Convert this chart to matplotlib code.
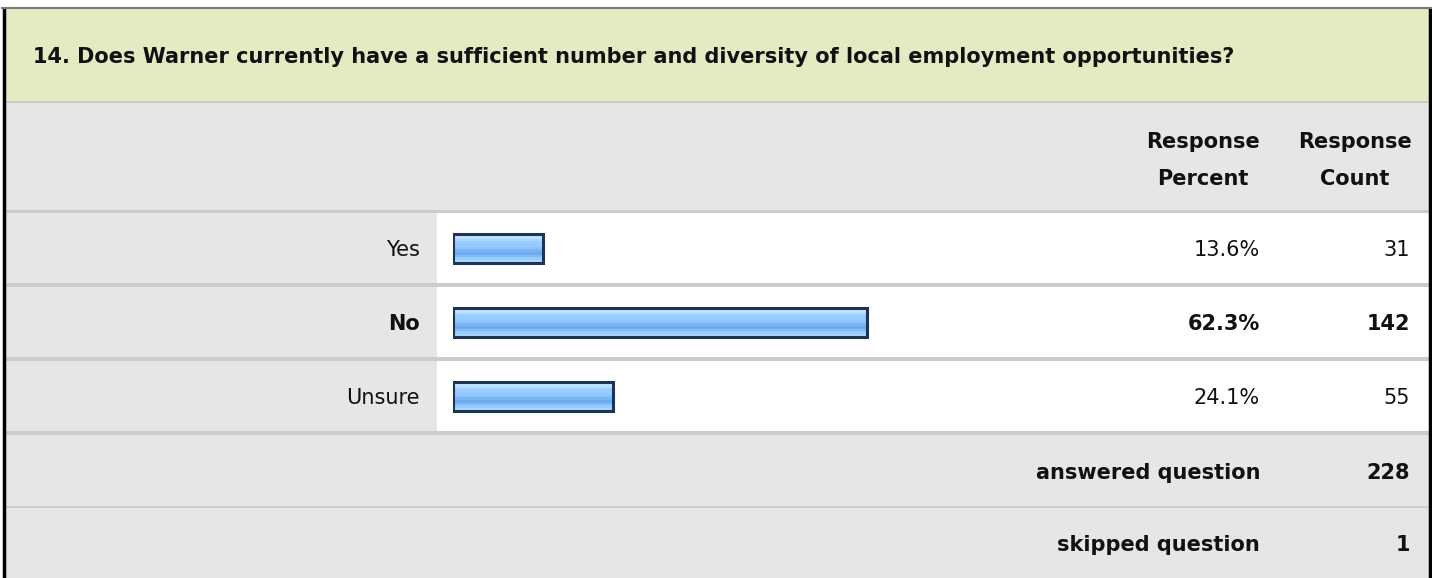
import matplotlib.pyplot as plt
from matplotlib.patches import Rectangle

plt.rcParams['font.family'] = ['DejaVu Sans']

question = '14. Does Warner currently have a sufficient number and diversity of local employment opportunities?'
answers = ['Yes', 'No', 'Unsure']
percents = [13.6, 62.3, 24.1]
counts = [31, 142, 55]
bold_rows = [False, True, False]
answered = 228
skipped = 1

W, H = 1432, 578
fig = plt.figure(figsize=(W / 100, H / 100), dpi=100)

# background axes in pixel coords
bg = fig.add_axes([0, 0, 1, 1])
bg.set_xlim(0, W)
bg.set_ylim(H, 0)
bg.axis('off')

green = '#e5eac2'
gray = '#e6e6e6'
line = '#cccccc'

def box(x0, y0, x1, y1, color):
    bg.add_patch(Rectangle((x0, y0), x1 - x0, y1 - y0, facecolor=color, edgecolor='none'))

# header band
box(3, 8, 1430, 101, green)
box(3, 101, 1430, 103, line)
box(3, 103, 1430, 210, gray)
box(3, 210, 1430, 213, line)

row_top = 213
row_h = 74
for i in range(len(answers)):
    y0 = row_top + i * row_h
    box(3, y0, 437, y0 + row_h - 4, gray)
    box(437, y0, 1430, y0 + row_h - 4, 'white')
    box(3, y0 + row_h - 4, 1430, y0 + row_h, line)

foot_top = row_top + len(answers) * row_h
box(3, foot_top, 1430, 506, gray)
box(3, 506, 1430, 508, line)
box(3, 508, 1430, H, gray)

# borders
bg.plot([3.5, 3.5], [7, H], color='black', lw=2.5, solid_capstyle='butt')
bg.plot([1429.5, 1429.5], [7, H], color='black', lw=2.5, solid_capstyle='butt')
bg.plot([2, 1431], [7.5, 7.5], color='#777777', lw=1.5)

fs = 15
tc = '#111111'
bg.text(33, 57, question, fontsize=fs, fontweight='bold', va='center', ha='left', color=tc)
bg.text(1203, 142, 'Response', fontsize=fs, fontweight='bold', ha='center', va='center', color=tc)
bg.text(1203, 179, 'Percent', fontsize=fs, fontweight='bold', ha='center', va='center', color=tc)
bg.text(1355, 142, 'Response', fontsize=fs, fontweight='bold', ha='center', va='center', color=tc)
bg.text(1355, 179, 'Count', fontsize=fs, fontweight='bold', ha='center', va='center', color=tc)

for i, (a, p, c, b) in enumerate(zip(answers, percents, counts, bold_rows)):
    yc = row_top + i * row_h + 37
    wt = 'bold' if b else 'normal'
    bg.text(420, yc, a, fontsize=fs, fontweight=wt, ha='right', va='center', color=tc)
    bg.text(1260, yc, f'{p:.1f}%', fontsize=fs, fontweight=wt, ha='right', va='center', color=tc)
    bg.text(1410, yc, str(c), fontsize=fs, fontweight=wt, ha='right', va='center', color=tc)

bg.text(1260, 473, 'answered question', fontsize=fs, fontweight='bold', ha='right', va='center', color=tc)
bg.text(1410, 473, str(answered), fontsize=fs, fontweight='bold', ha='right', va='center', color=tc)
bg.text(1260, 545, 'skipped question', fontsize=fs, fontweight='bold', ha='right', va='center', color=tc)
bg.text(1410, 545, str(skipped), fontsize=fs, fontweight='bold', ha='right', va='center', color=tc)

# bar axes: 0-100% mapped onto pixels
bx0, bx1 = 453, 1118
ax = fig.add_axes([bx0 / W, 1 - (row_top + 3 * row_h) / H, (bx1 - bx0) / W, 3 * row_h / H])
ax.set_xlim(0, 100)
d = 2 / row_h
ax.set_ylim(len(answers) - 0.5 + d, -0.5 + d)
ax.axis('off')
ax.patch.set_alpha(0)

ypos = list(range(len(answers)))
bar_h = 29 / row_h
# gradient stripes, top to bottom
stripes = ['#d2e9ff', '#bfe0ff', '#aad6ff', '#9acdff', '#93c9ff', '#8cc4fc',
           '#7ab6f3', '#6eaaee', '#82bcf7', '#96cbff', '#a8d6ff']
n = len(stripes)
for k, col in enumerate(stripes):
    off = -bar_h / 2 + (k + 0.5) * bar_h / n
    ax.barh([y + off for y in ypos], percents, height=bar_h / n, left=0,
            color=col, edgecolor='none')
ax.barh(ypos, percents, height=bar_h, color='none', edgecolor='#1d3458', linewidth=2.2)

fig.savefig('out.png', dpi=100)
